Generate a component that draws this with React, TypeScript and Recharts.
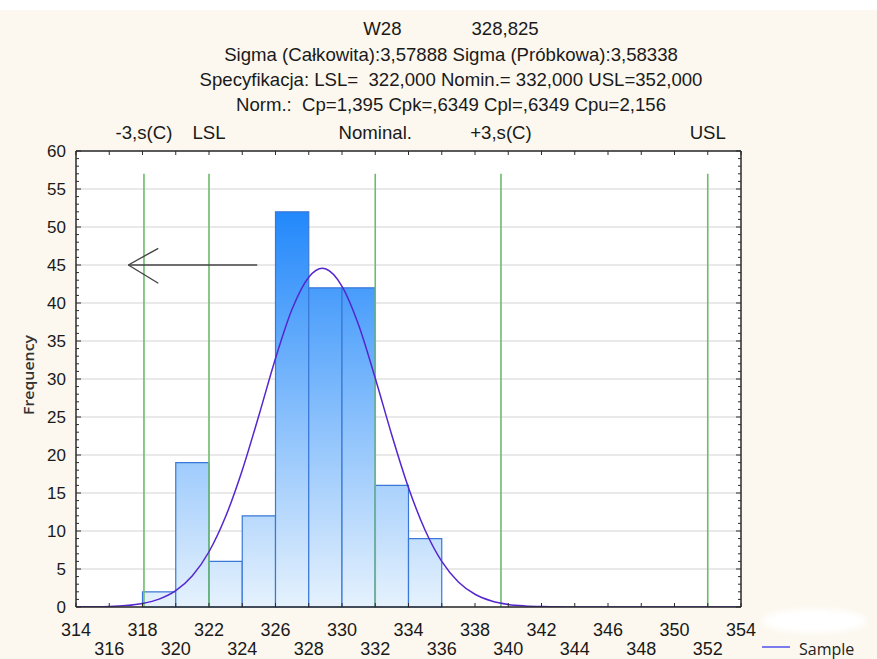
import React from 'react';
import {
  ComposedChart,
  Line,
  XAxis,
  YAxis,
  CartesianGrid,
  ReferenceArea,
  ReferenceLine,
  Legend,
} from 'recharts';

// ---------------- data ----------------
const titleLine1 = ['W28', '328,825'];
const titleLines = [
  'Sigma (Całkowita):3,57888 Sigma (Próbkowa):3,58338',
  'Specyfikacja: LSL=  322,000 Nomin.= 332,000 USL=352,000',
  'Norm.:  Cp=1,395 Cpk=,6349 Cpl=,6349 Cpu=2,156',
];

const binStarts = [318, 320, 322, 324, 326, 328, 330, 332, 334];
const binEnds = [320, 322, 324, 326, 328, 330, 332, 334, 336];
const binCounts = [2, 19, 6, 12, 52, 42, 42, 16, 9];

const curveX = [
  314, 315, 316, 317, 318, 319, 320, 321, 322, 323, 324, 325, 326, 327, 328,
  328.825, 329, 330, 331, 332, 333, 334, 335, 336, 337, 338, 339, 340, 341,
  342, 343, 344, 346, 348, 350, 352, 354,
];
const curveY = [
  0.01, 0.03, 0.07, 0.19, 0.47, 1.04, 2.15, 4.11, 7.27, 11.9, 18.0, 25.2,
  32.7, 39.2, 43.4, 44.57, 44.5, 42.2, 37.1, 30.1, 22.6, 15.7, 10.1, 6.0, 3.3,
  1.68, 0.79, 0.34, 0.14, 0.05, 0.02, 0.005, 0, 0, 0, 0, 0,
];

const specLabels = ['-3,s(C)', 'LSL', 'Nominal.', '+3,s(C)', 'USL'];
const specValues = [318.088, 322, 332, 339.562, 352];
const specLineTop = 57;

const arrowTailX = 324.9;
const arrowTipX = 317.15;
const arrowLevel = 45;
const arrowHeadX = 318.95;
const arrowHeadY = [47.2, 42.6];

const xTicks = [
  314, 316, 318, 320, 322, 324, 326, 328, 330, 332, 334, 336, 338, 340, 342,
  344, 346, 348, 350, 352, 354,
];
const xLowerRow = [316, 320, 324, 328, 332, 336, 340, 344, 348, 352];
const yTicks = [
  0, 1, 2, 3, 4, 5, 6, 7, 8, 9, 10, 11, 12, 13, 14, 15, 16, 17, 18, 19, 20, 21,
  22, 23, 24, 25, 26, 27, 28, 29, 30, 31, 32, 33, 34, 35, 36, 37, 38, 39, 40,
  41, 42, 43, 44, 45, 46, 47, 48, 49, 50, 51, 52, 53, 54, 55, 56, 57, 58, 59,
  60,
];
const yLabelTicks = [0, 5, 10, 15, 20, 25, 30, 35, 40, 45, 50, 55, 60];

const legendItems = [{ label: 'Sample', color: '#7B7BEF' }];

// ---------------- styles ----------------
const FRAME = '#2a2a2a';
const ARIAL = '"Liberation Sans", Arial, sans-serif';
const TEXT = '#1a1a1a';
const CREAM = '#FCF8EF';

const chartData = curveX.map((x, i) => ({ x, y: curveY[i] }));

const BottomTick = (props: any) => {
  const { x, y, payload } = props;
  const v = payload.value as number;
  const lower = xLowerRow.includes(v);
  return (
    <g>
      <line x1={x} y1={y} x2={x} y2={y - 4} stroke={FRAME} strokeWidth={1} />
      <text
        x={x}
        y={lower ? y + 48 : y + 28.5}
        textAnchor="middle"
        fontFamily={ARIAL}
        fontSize={18}
        fill={TEXT}
      >
        {v}
      </text>
    </g>
  );
};

const TopTick = (props: any) => {
  const { x, y } = props;
  return <line x1={x} y1={y} x2={x} y2={y + 4} stroke={FRAME} strokeWidth={1} />;
};

const LeftTick = (props: any) => {
  const { x, y, payload } = props;
  const v = payload.value as number;
  const major = yLabelTicks.includes(v);
  return (
    <g>
      <line x1={x} y1={y} x2={x + (major ? 5 : 3)} y2={y} stroke={FRAME} strokeWidth={1} />
      {major && (
        <text x={x - 10} y={y + 6.2} textAnchor="end" fontFamily={ARIAL} fontSize={17} fill={TEXT}>
          {v}
        </text>
      )}
    </g>
  );
};

const RightTick = (props: any) => {
  const { x, y, payload } = props;
  const v = payload.value as number;
  const major = yLabelTicks.includes(v);
  return <line x1={x} y1={y} x2={x - (major ? 5 : 3)} y2={y} stroke={FRAME} strokeWidth={1} />;
};

const makeSpecLabel = (text: string) => (props: any) => {
  const vb = props.viewBox || {};
  return (
    <text
      x={vb.x}
      y={vb.y - 35.3}
      textAnchor="middle"
      fontFamily={ARIAL}
      fontSize={18.6}
      fill={TEXT}
    >
      {text}
    </text>
  );
};

const FrequencyLabel = (props: any) => {
  const vb = props.viewBox || {};
  const cx = vb.x - 8;
  const cy = vb.y + vb.height / 2 - 4;
  return (
    <text
      x={cx}
      y={cy}
      transform={`rotate(-90 ${cx} ${cy})`}
      textAnchor="middle"
      dominantBaseline="central"
      fontFamily='"Open Sans", sans-serif'
      fontWeight={600}
      fontSize={15}
      textLength={80}
      lengthAdjust="spacingAndGlyphs"
      fill="#333"
    >
      Frequency
    </text>
  );
};

const LegendContent = () => (
  <div style={{ position: 'relative', width: 120, height: 24 }}>
    {legendItems.map((it, i) => (
      <div key={i} style={{ position: 'absolute', left: 0, top: 0, height: 24, width: 120 }}>
        <div
          style={{
            position: 'absolute',
            left: 0,
            top: 9,
            width: 28,
            height: 2,
            background: it.color,
          }}
        />
        <div
          style={{
            position: 'absolute',
            left: 37,
            top: 0,
            lineHeight: '24px',
            fontFamily: '"Open Sans", sans-serif',
            fontSize: 16,
            color: '#222',
            whiteSpace: 'nowrap',
          }}
        >
          {it.label}
        </div>
      </div>
    ))}
  </div>
);

export default function App() {
  const titleTops = [44, 69, 94];
  return (
    <div
      style={{
        position: 'absolute',
        left: 0,
        top: 0,
        width: 877,
        height: 659,
        overflow: 'hidden',
        background: `linear-gradient(#ffffff 0px, #ffffff 10px, ${CREAM} 10px)`,
      }}
    >
      {/* white smudge at bottom right */}
      <div
        style={{
          position: 'absolute',
          left: 762,
          top: 609,
          width: 105,
          height: 24,
          borderRadius: '50%',
          background: '#ffffff',
          filter: 'blur(3px)',
        }}
      />
      <div
        style={{
          position: 'absolute',
          left: 151,
          top: 18,
          width: 600,
          height: 22,
          lineHeight: '22px',
          textAlign: 'center',
          fontFamily: ARIAL,
          fontSize: 18.6,
          color: TEXT,
          whiteSpace: 'pre',
        }}
      >
        <span>{titleLine1[0]}</span>
        <span style={{ marginLeft: 70 }}>{titleLine1[1]}</span>
      </div>
      {titleLines.map((t, i) => (
        <div
          key={i}
          style={{
            position: 'absolute',
            left: 151,
            top: titleTops[i],
            width: 600,
            height: 22,
            lineHeight: '22px',
            textAlign: 'center',
            fontFamily: ARIAL,
            fontSize: 18.6,
            color: TEXT,
            whiteSpace: 'pre',
          }}
        >
          {t}
        </div>
      ))}
      <div style={{ position: 'absolute', left: 0, top: 0 }}>
        <ComposedChart
          width={877}
          height={659}
          data={chartData}
          margin={{ top: 150, right: 126, bottom: 2, left: 36 }}
        >
          <defs>
            <linearGradient id="barGrad" gradientUnits="userSpaceOnUse" x1="0" y1="151" x2="0" y2="607">
              <stop offset="0" stopColor="#1F86FA" />
              <stop offset="0.134" stopColor="#2288FB" />
              <stop offset="1" stopColor="#E6F2FD" />
            </linearGradient>
          </defs>
          <CartesianGrid
            xAxisId="bottom"
            yAxisId="left"
            vertical={false}
            horizontalValues={yLabelTicks}
            stroke="#E2E2E2"
            strokeWidth={1.5}
            fill="#ffffff"
            fillOpacity={1}
          />
          <XAxis
            xAxisId="bottom"
            dataKey="x"
            type="number"
            domain={[314, 354]}
            ticks={xTicks}
            interval={0}
            height={50}
            tickSize={0}
            tickMargin={0}
            tickLine={false}
            axisLine={{ stroke: FRAME, strokeWidth: 1.5 }}
            tick={<BottomTick />}
            allowDataOverflow
          />
          <XAxis
            xAxisId="top"
            orientation="top"
            dataKey="x"
            type="number"
            domain={[314, 354]}
            ticks={xTicks}
            interval={0}
            height={1}
            tickSize={0}
            tickMargin={0}
            tickLine={false}
            axisLine={{ stroke: FRAME, strokeWidth: 1.5 }}
            tick={<TopTick />}
            allowDataOverflow
          />
          <YAxis
            yAxisId="left"
            type="number"
            domain={[0, 60]}
            ticks={yTicks}
            interval={0}
            width={40}
            tickSize={0}
            tickMargin={0}
            tickLine={false}
            axisLine={{ stroke: FRAME, strokeWidth: 1.5 }}
            tick={<LeftTick />}
            label={<FrequencyLabel />}
            allowDataOverflow
          />
          <YAxis
            yAxisId="right"
            orientation="right"
            type="number"
            domain={[0, 60]}
            ticks={yTicks}
            interval={0}
            width={10}
            tickSize={0}
            tickMargin={0}
            tickLine={false}
            axisLine={{ stroke: FRAME, strokeWidth: 1.5 }}
            tick={<RightTick />}
            allowDataOverflow
          />
          {binCounts.map((c, i) => (
            <ReferenceArea
              key={`bin-${i}`}
              xAxisId="bottom"
              yAxisId="left"
              x1={binStarts[i]}
              x2={binEnds[i]}
              y1={0}
              y2={c}
              fill="url(#barGrad)"
              fillOpacity={1}
              stroke="#3A78D8"
              strokeWidth={1.2}
            />
          ))}
          {specValues.map((v, i) => (
            <ReferenceLine
              key={`spec-${i}`}
              xAxisId="bottom"
              yAxisId="left"
              segment={[
                { x: v, y: 0 },
                { x: v, y: specLineTop },
              ]}
              stroke="#6DBB6D"
              strokeWidth={1.6}
              label={makeSpecLabel(specLabels[i])}
            />
          ))}
          <ReferenceLine
            xAxisId="bottom"
            yAxisId="left"
            segment={[
              { x: arrowTailX, y: arrowLevel },
              { x: arrowTipX, y: arrowLevel },
            ]}
            stroke="#444"
            strokeWidth={1.4}
          />
          {arrowHeadY.map((hy, i) => (
            <ReferenceLine
              key={`head-${i}`}
              xAxisId="bottom"
              yAxisId="left"
              segment={[
                { x: arrowTipX, y: arrowLevel },
                { x: arrowHeadX, y: hy },
              ]}
              stroke="#444"
              strokeWidth={1.4}
            />
          ))}
          <Line
            xAxisId="bottom"
            yAxisId="left"
            type="monotone"
            dataKey="y"
            name="Sample"
            stroke="#5526CF"
            strokeWidth={1.5}
            dot={false}
            activeDot={false}
            isAnimationActive={false}
          />
          <Legend
            layout="horizontal"
            verticalAlign="middle"
            align="center"
            wrapperStyle={{ left: 762, top: 637, width: 120, height: 24 }}
            content={<LegendContent />}
          />
        </ComposedChart>
      </div>
    </div>
  );
}
